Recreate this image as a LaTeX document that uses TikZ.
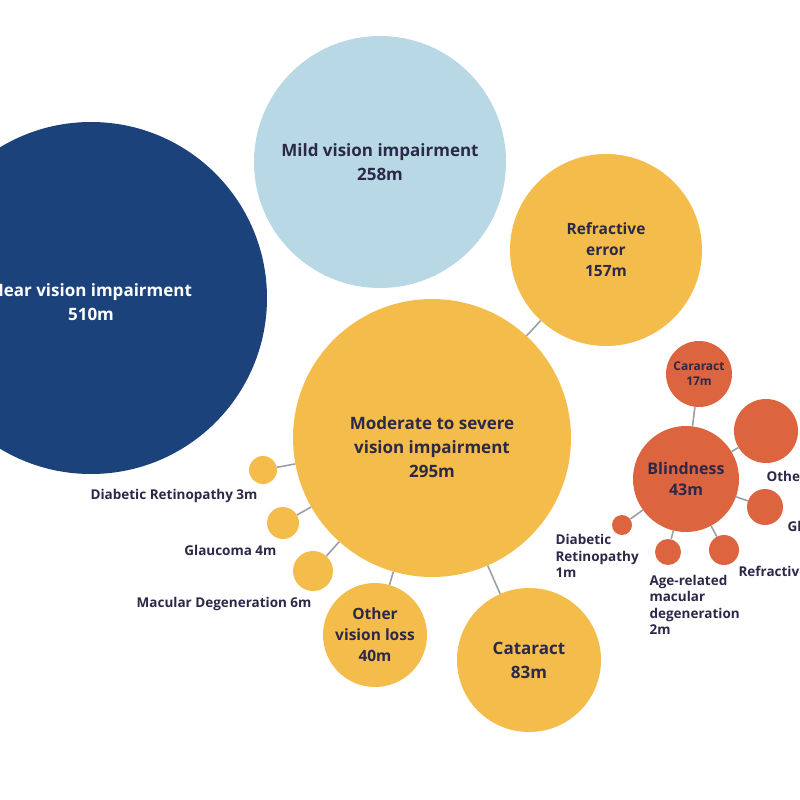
\documentclass[tikz,border=0pt]{standalone}
\usepackage{fontspec}
\setmainfont{Open Sans}
\usetikzlibrary{positioning}
\definecolor{nearblue}{HTML}{1B427A}
\definecolor{mildblue}{HTML}{B9D8E5}
\definecolor{mvigold}{HTML}{F4BC4B}
\definecolor{blindred}{HTML}{DC6540}
\definecolor{inktext}{HTML}{2B2848}
\definecolor{linkgray}{HTML}{9AA0A6}
\begin{document}
\begin{tikzpicture}[
  x=1pt, y=-1pt,
  every node/.style={align=center, text=inktext},
  bubble/.style={circle, inner sep=0pt, minimum size=#1},
  big/.style={font=\fontsize{17}{24}\selectfont\bfseries},
  mid/.style={font=\fontsize{15.5}{21}\selectfont\bfseries},
  tiny/.style={font=\fontsize{12}{15}\selectfont\bfseries},
  note/.style={font=\fontsize{13.5}{16.5}\selectfont\bfseries},
  link/.style={draw=linkgray, line width=1.6pt}]

  \useasboundingbox (0,0) rectangle (800,800);
  \clip (0,0) rectangle (800,800);

  % Hauptgruppen
  \node[bubble=352, fill=nearblue,
    label={[big, text=white, yshift=-4pt]center:Near vision impairment\\510m}] (near) at (91,298) {};
  \node[bubble=252, fill=mildblue, big] (mild) at (380,162) {Mild vision impairment\\258m};
  \node[bubble=192, fill=mvigold, mid] (refr) at (606,250) {Refractive\\error\\157m};
  \node[bubble=278, fill=mvigold,
    label={[big, yshift=-9pt]center:Moderate to severe\\vision impairment\\295m}] (mod) at (432,438) {};
  \node[bubble=144, fill=mvigold, big] (cat) at (529,660) {Cataract\\83m};
  \node[bubble=104, fill=mvigold, mid] (other) at (375,635) {Other\\vision loss\\40m};

  % kleine Ursachen
  \node[bubble=28, fill=mvigold] (dr3) at (263,470) {};
  \node[bubble=32, fill=mvigold] (gl4) at (283,523) {};
  \node[bubble=40, fill=mvigold] (md6) at (313,571) {};
  \node[note, anchor=east] (dr3txt) at (261,496) {Diabetic Retinopathy 3m};
  \node[note, anchor=east] (gl4txt) at (280,550) {Glaucoma 4m};
  \node[note, anchor=east] (md6txt) at (315,604) {Macular Degeneration 6m};

  % Blindheit
  \node[bubble=106, fill=blindred, font=\fontsize{16}{21}\selectfont\bfseries] (blind) at (686,479) {Blindness\\43m};
  \node[bubble=66, fill=blindred, tiny] (cat17) at (699,374) {Cararact\\17m};
  \node[bubble=64, fill=blindred] (oth) at (766,431) {};
  \node[bubble=36, fill=blindred] (glb) at (765,507) {};
  \node[bubble=30, fill=blindred] (refb) at (724,550) {};
  \node[bubble=26, fill=blindred] (amd) at (668,552) {};
  \node[bubble=20, fill=blindred] (dr1) at (622,525) {};
  \node[note, anchor=west] (othtxt) at (763,476) {Other};
  \node[note, anchor=west] (glbtxt) at (784,526) {Glaucoma};
  \node[note, anchor=west] (refbtxt) at (735,571) {Refractive};
  \node[note, anchor=west, align=left] (amdtxt) at (646,605) {Age-related\\macular\\degeneration\\2m};
  \node[note, anchor=west, align=left] (dr1txt) at (552,556) {Diabetic\\Retinopathy\\1m};

  % Verbindungen
  \draw[link] (refr) -- (mod);
  \draw[link] (cat) -- (mod);
  \draw[link] (other) -- (mod);
  \draw[link] (dr3) -- (mod);
  \draw[link] (gl4) -- (mod);
  \draw[link] (md6) -- (mod);
  \draw[link] (cat17) -- (blind);
  \draw[link] (oth) -- (blind);
  \draw[link] (glb) -- (blind);
  \draw[link] (refb) -- (blind);
  \draw[link] (amd) -- (blind);
  \draw[link] (dr1) -- (blind);

\end{tikzpicture}
\end{document}
